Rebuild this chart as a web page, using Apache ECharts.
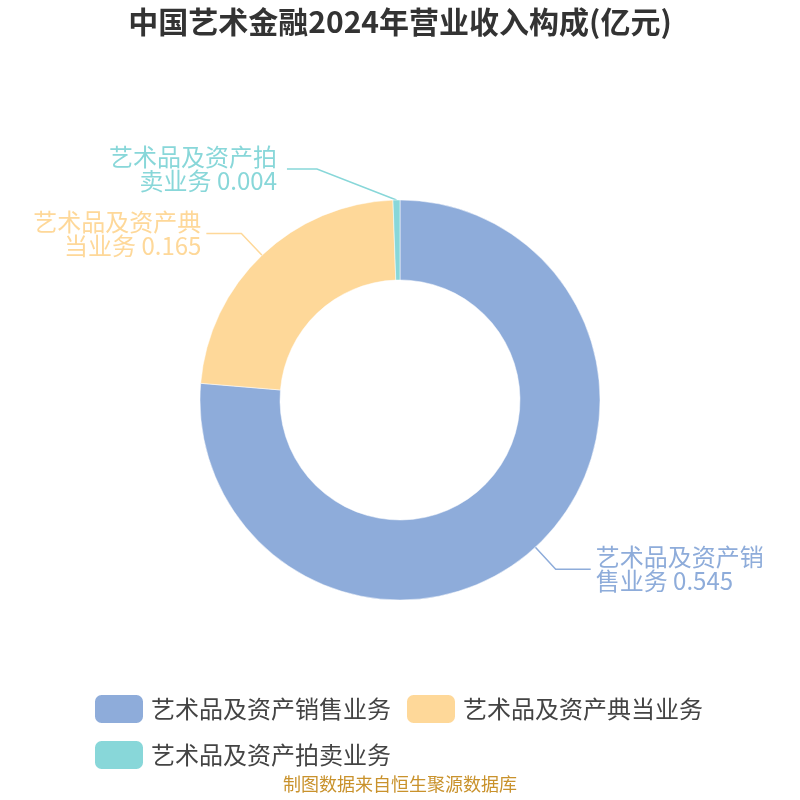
<!DOCTYPE html>
<html>
<head>
<meta charset="utf-8">
<script src="https://cdn.jsdelivr.net/npm/echarts@6/dist/echarts.min.js"></script>
<style>html,body{margin:0;padding:0;background:#fff}#c{width:800px;height:800px}</style>
</head>
<body>
<div id="c"></div>
<script>
const titleText = '中国艺术金融2024年营业收入构成(亿元)';
const sourceText = '制图数据来自恒生聚源数据库';
const categories = ['艺术品及资产销售业务', '艺术品及资产典当业务', '艺术品及资产拍卖业务'];
const values = [0.545, 0.165, 0.004];
const colors = ['#8eacda', '#fed899', '#88d7d9'];

const chart = echarts.init(document.getElementById('c'));
const FONT = '"Noto Sans CJK SC", "Noto Sans", sans-serif';
chart.setOption({
  color: colors,
  title: [{
    text: titleText, left: 'center', top: 2,
    textStyle: { fontSize: 30, fontWeight: 'bold', color: '#333', fontFamily: FONT }
  }, {
    text: sourceText, left: 'center', bottom: 2,
    textStyle: { fontSize: 18, fontWeight: 'normal', color: '#c9922c', fontFamily: FONT }
  }],
  legend: {
    left: 88, right: 40, top: 688,
    itemWidth: 50, itemHeight: 30, itemGap: 14,
    icon: 'roundRect',
    textStyle: { fontSize: 24, color: '#444', fontFamily: FONT, padding: [0, 4, 0, 2] },
    data: categories
  },
  series: [{
    type: 'pie',
    center: ['50%', '50%'],
    radius: ['30%', '50%'],
    startAngle: 90,
    clockwise: true,
    itemStyle: { borderColor: '#fff', borderWidth: 0.5 },
    label: {
      fontSize: 24, fontFamily: FONT, color: 'inherit', lineHeight: 24,
      formatter: p => p.name.slice(0, 7) + '\n' + p.name.slice(7) + ' ' + p.value
    },
    labelLine: { length: 30, length2: 35, lineStyle: { width: 1.5 } },
    labelLayout: function (params) {
      if (params.dataIndex === 2) {
        const r = params.labelRect;
        return {
          x: r.x + r.width - 74,
          y: r.y + r.height / 2 - 1,
          align: 'right',
          verticalAlign: 'middle'
        };
      }
    },
    data: categories.map((n, i) => ({
      name: n, value: values[i],
      label: i === 2 ? { color: colors[i], padding: [0, 10, 0, 0] } : { color: colors[i] },
      labelLine: i === 2 ? { length2: 30 } : undefined
    }))
  }]
});
</script>
</body>
</html>
